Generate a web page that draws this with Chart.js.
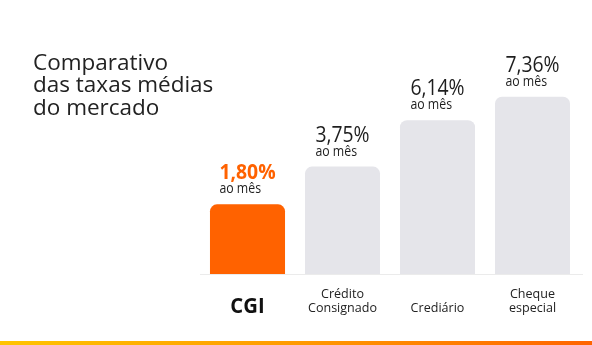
<!DOCTYPE html>
<html><head><meta charset="utf-8">
<script src="https://cdn.jsdelivr.net/npm/chart.js@4"></script>
<style>html,body{margin:0;padding:0;background:#fff}#wrap{width:592px;height:345px;position:relative}</style>
</head><body><div id="wrap"><canvas id="c" width="592" height="345"></canvas></div>
<script>
const categories = [["CGI"], ["Crédito", "Consignado"], ["Crediário"], ["Cheque", "especial"]];
const rates = [1.80, 3.75, 6.14, 7.36];
const rateLabels = ["1,80%", "3,75%", "6,14%", "7,36%"];
const unitLabel = "ao mês";
const titleLines = ["Comparativo", "das taxas médias", "do mercado"];

const Y_MIN = -1.82, Y_MAX = 12.35;
const FONT = '"Open Sans", "Noto Sans", sans-serif';
const ORANGE = '#FF6200';
const SX = 0.88;

function scaledText(ctx, text, x, y, sx) {
  ctx.save();
  ctx.translate(x, y);
  ctx.scale(sx, 1);
  ctx.fillText(text, 0, 0);
  ctx.restore();
}

const overlay = {
  id: 'overlay',
  afterDatasetsDraw(chart) {
    const ctx = chart.ctx;
    const xs = chart.scales.x, ys = chart.scales.y;
    ctx.save();
    // axis line
    ctx.strokeStyle = '#EBEBEB';
    ctx.lineWidth = 1;
    ctx.beginPath();
    ctx.moveTo(200, 274.5); ctx.lineTo(583, 274.5);
    ctx.stroke();
    // title
    ctx.fillStyle = '#222';
    ctx.textAlign = 'left';
    ctx.textBaseline = 'alphabetic';
    ctx.font = '22.5px ' + FONT;
    titleLines.forEach((t, i) => ctx.fillText(t, 33, 70 + i * 22.3));
    rates.forEach((v, i) => {
      const top = ys.getPixelForValue(v);
      const cx = xs.getPixelForValue(i);
      ctx.textAlign = 'left';
      ctx.font = (i === 0 ? 'bold ' : '') + '22px ' + FONT;
      const w = ctx.measureText(rateLabels[i]).width * SX;
      const left = cx - w / 2;
      ctx.fillStyle = i === 0 ? ORANGE : '#1E1E1E';
      scaledText(ctx, rateLabels[i], left, top - 25, SX);
      ctx.font = '14px ' + FONT;
      ctx.fillStyle = '#1E1E1E';
      scaledText(ctx, unitLabel, left, top - 11, SX);
      // category labels
      const lines = categories[i];
      ctx.textAlign = 'center';
      if (i === 0) {
        ctx.font = 'bold 22px ' + FONT;
        ctx.fillStyle = '#111';
        scaledText(ctx, lines[0], cx, 312.5, 0.92);
      } else {
        ctx.font = '13.5px ' + FONT;
        ctx.fillStyle = '#222';
        const n = lines.length;
        lines.forEach((l, j) => scaledText(ctx, l, cx, 312 - (n - 1 - j) * 14, 0.93));
      }
    });
    // bottom gradient band
    const g = ctx.createLinearGradient(0, 0, 592, 0);
    g.addColorStop(0, '#FFC400');
    g.addColorStop(0.5, '#FF9A00');
    g.addColorStop(1, '#FF6400');
    ctx.fillStyle = g;
    ctx.fillRect(0, 341, 592, 4);
    ctx.restore();
  }
};

new Chart(document.getElementById('c'), {
  type: 'bar',
  data: {
    labels: categories.map(c => c.join(' ')),
    datasets: [{
      data: rates.map(v => [Y_MIN, v]),
      backgroundColor: rates.map((v, i) => i === 0 ? ORANGE : '#E5E5EA'),
      borderRadius: {topLeft: 7, topRight: 7, bottomLeft: 0, bottomRight: 0},
      borderSkipped: false,
      categoryPercentage: 1,
      barPercentage: 0.79
    }]
  },
  options: {
    responsive: false,
    animation: false,
    devicePixelRatio: 1,
    layout: {padding: {left: 200, right: 12, top: 0, bottom: 70.5}},
    plugins: {legend: {display: false}, tooltip: {enabled: false}},
    scales: {
      x: {display: false},
      y: {display: false, min: Y_MIN, max: Y_MAX}
    }
  },
  plugins: [overlay]
});
</script></body></html>
